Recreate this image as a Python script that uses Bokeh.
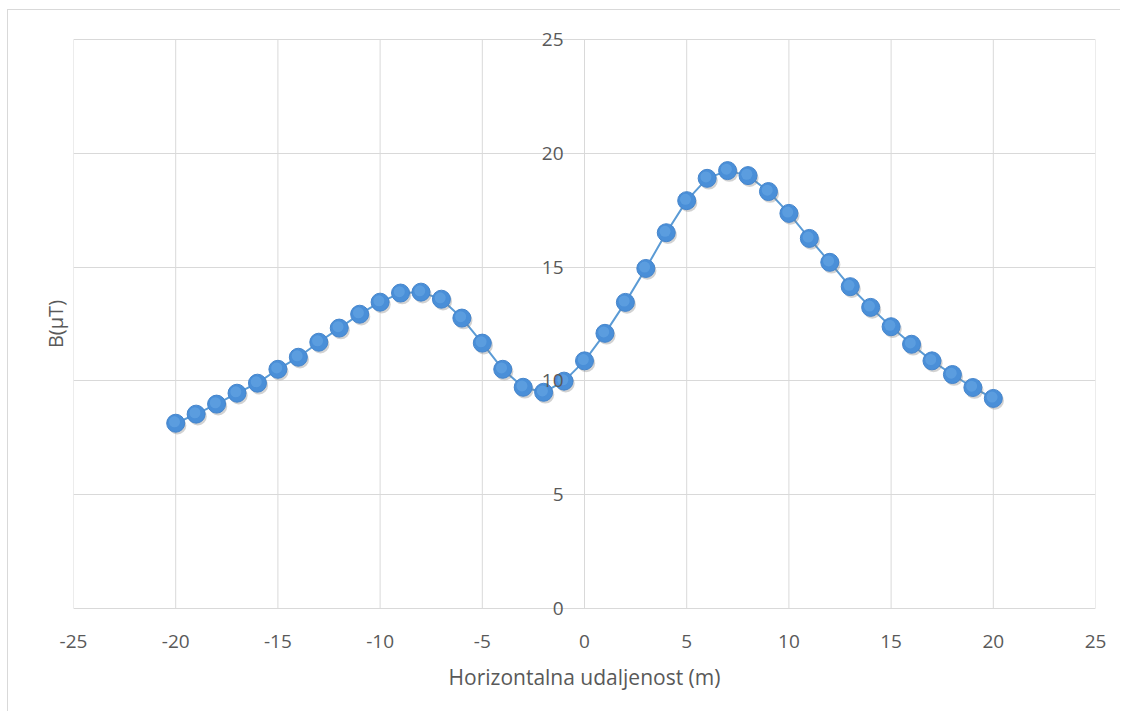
from bokeh.plotting import figure
from bokeh.models import Range1d, FixedTicker, ColumnDataSource, Label, NumeralTickFormatter
from bokeh.transform import dodge
from bokeh.embed import file_html
from bokeh.resources import INLINE

# data
distance_m = [-20, -19, -18, -17, -16, -15, -14, -13, -12, -11, -10, -9, -8, -7, -6, -5, -4, -3, -2, -1,
              0, 1, 2, 3, 4, 5, 6, 7, 8, 9, 10, 11, 12, 13, 14, 15, 16, 17, 18, 19, 20]
b_uT = [8.14, 8.54, 8.98, 9.46, 9.90, 10.51, 11.04, 11.70, 12.32, 12.93, 13.46, 13.86, 13.90, 13.59,
        12.76, 11.66, 10.51, 9.72, 9.50, 9.99,
        10.88, 12.09, 13.45, 14.94, 16.51, 17.92, 18.90, 19.24, 19.02, 18.32, 17.36, 16.26, 15.21,
        14.14, 13.23, 12.38, 11.61, 10.88, 10.28, 9.71, 9.23]
x_ticks = [-25, -20, -15, -10, -5, 0, 5, 10, 15, 20, 25]
y_ticks = [0, 5, 10, 15, 20, 25]
y_tick_labels = ["0", "5", "10", "15", "20", "25"]
x_title = "Horizontalna udaljenost (m)"
y_title = "B(µT)"

FONT = "Open Sans"
TXT = "#595959"
GRID = "#d9d9d9"

# small vertical padding of the frame so that the "0" and "25" labels are not cut
PAD = 14 * 25 / 569
Y_MIN, Y_MAX = y_ticks[0], y_ticks[-1]

src = ColumnDataSource(dict(x=distance_m, y=b_uT))
vsrc = ColumnDataSource(dict(x=x_ticks, y0=[Y_MIN] * len(x_ticks), y1=[Y_MAX] * len(x_ticks)))

p = figure(width=1113, height=702, output_backend="svg", toolbar_location=None,
           x_range=Range1d(-25, 25), y_range=Range1d(Y_MIN - PAD, Y_MAX + PAD),
           min_border_left=65, min_border_right=26, min_border_top=15, min_border_bottom=90,
           background_fill_color="white", border_fill_color="white")
p.styles = {"margin-left": "7px", "margin-top": "9px",
            "border-left": "1px solid #d9d9d9", "border-top": "1px solid #d9d9d9"}
p.outline_line_color = None

# x axis (below)
xa = p.xaxis[0]
xa.ticker = FixedTicker(ticks=x_ticks)
xa.formatter = NumeralTickFormatter(format="0")
xa.axis_line_color = None
xa.major_tick_line_color = None
xa.minor_tick_line_color = None
xa.major_label_text_font = FONT
xa.major_label_text_font_size = "19px"
xa.major_label_text_color = TXT
xa.major_label_standoff = 6
xa.axis_label = x_title
xa.axis_label_text_font = FONT
xa.axis_label_text_font_size = "21px"
xa.axis_label_text_font_style = "normal"
xa.axis_label_text_color = TXT
xa.axis_label_standoff = 12

# left axis used only for the title
ya = p.yaxis[0]
ya.ticker = FixedTicker(ticks=[])
ya.axis_line_color = None
ya.major_tick_line_color = None
ya.minor_tick_line_color = None
ya.axis_label = y_title
ya.axis_label_text_font = FONT
ya.axis_label_text_font_size = "20px"
ya.axis_label_text_font_style = "normal"
ya.axis_label_text_color = TXT
ya.axis_label_standoff = 5

# y tick labels next to the vertical axis at x = 0
for tv, tl in zip(y_ticks, y_tick_labels):
    p.add_layout(Label(x=0, y=tv, text=tl, x_offset=-21,
                       text_align="right", text_baseline="middle",
                       text_font=FONT, text_font_size="19px", text_color=TXT))

# grid: horizontal lines from the grid, vertical lines limited to 0..25
p.xgrid.visible = False
p.ygrid.ticker = FixedTicker(ticks=y_ticks)
p.ygrid.grid_line_color = GRID
p.segment(x0="x", y0="y0", x1="x", y1="y1", source=vsrc, line_color=GRID, line_width=1,
          level="underlay")

p.line("x", "y", source=src, line_color="#5b9bd5", line_width=2)
p.scatter(dodge("x", 0.08, range=p.x_range), dodge("y", -0.1, range=p.y_range), source=src,
          size=18, fill_color="#7f7f7f", fill_alpha=0.35, line_color=None)
p.scatter("x", "y", source=src, size=18, fill_color="#4a8fd8", line_color="#4585cc", line_width=1)
p.scatter(dodge("x", -0.06, range=p.x_range), dodge("y", 0.06, range=p.y_range), source=src,
          size=11, fill_color="#6aa9e6", fill_alpha=0.55, line_color=None)

open("out.html", "w").write(file_html(p, INLINE))
